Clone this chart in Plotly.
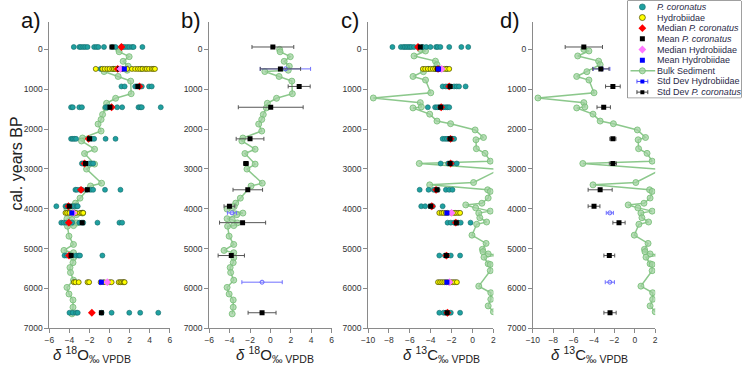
import plotly.graph_objects as go

# ---------------- data ----------------
bulk_age_d18O = [0, 60, 183, 300, 423, 523, 556, 680, 797, 1113, 1228, 1353, 1470, 1635, 1760, 1875,
                 2050, 2225, 2300, 2507, 2615, 2880, 3005, 3360, 3430, 3735, 3860, 3945, 4010, 4110,
                 4150, 4250, 4275, 4357, 4424, 4440, 4690, 4897, 5047, 5105, 5230, 5354, 5478, 5603,
                 5794, 5976, 6142, 6292, 6474, 6640]
bulk_d18O = [0.9, 0.95, 1.95, 1.35, 1.85, 1.75, -0.55, 0.85, 2.1, 2.15, 0.6, -0.3, -0.4, -0.7, -0.85,
             -1.15, -0.85, -2.7, -2.8, -1.5, -2.5, -1.5, -2.3, -0.8, -1.9, -2.95, -3.4, -3.55, -4.25,
             -2.7, -3.3, -4.25, -3.75, -3.25, -3.6, -4.2, -4.05, -3.6, -4.55, -3.6, -3.6, -3.65, -3.95,
             -3.9, -3.6, -4.25, -4.05, -3.65, -3.65, -3.75]

bulk_age_d13C = [0, 40, 165, 295, 385, 560, 680, 770, 1090, 1220, 1337, 1445, 1470, 1626, 1800, 1866,
                 2022, 2212, 2270, 2493, 2610, 2806, 2865, 3013, 3343, 3401, 3525, 3566, 3732, 3863,
                 3905, 3979, 4061, 4111, 4227, 4334, 4391, 4664, 4871, 5020, 5080, 5135, 5165, 5218,
                 5383, 5400, 5556, 5944, 6110, 6275, 6440, 6588]
bulk_d13C = [-5.0, -4.5, -5.6, -3.55, -3.4, -4.7, -5.7, -4.5, -4.0, -9.5, -5.0, -4.9, -5.7, -4.1, -3.4,
             -2.1, 0.25, 1.05, 0.33, 0.37, 1.2, 1.7, -5.1, 2.6, 0.1, -4.1, 1.45, 1.7, 1.5, 0.9, -0.65,
             0.3, 1.7, 0.6, 0.7, 1.35, 0.4, -0.05, 1.3, 0.95, 1.0, 1.5, 2.3, 1.1, 1.5, 1.7, 1.7, 0.6,
             1.75, 1.75, 1.5, 2.0]

pc_row_ages = [-60, 490, 930, 1453, 2246, 2865, 3525, 3938, 4350, 5176, 6612]
pc_d18O = [
    [-3.57, -3.02, -2.85, -2.63, -2.43, -2.2, -1.54, -1.31, -1.12, -0.56, 0.26, 0.59, 1.18, 1.31, 1.5,
     1.74, 1.96, 2.23, 2.39, 3.27],
    [-0.9, 0.4, 1.2, 3.2],
    [1.18, 1.5, 2.55, 2.72, 2.82, 2.98, 3.21, 3.93, 4.2],
    [-3.84, -3.67, -3.02, -2.76, -0.4, -0.23, -0.07, 0.2, 0.75, 1.25, 2.88, 3.05, 3.21, 5.1],
    [-3.84, -3.67, -3.51, -3.34, -2.04, -1.77, -1.54, -0.4, 0.59],
    [-2.76, -2.63, -2.43, -2.04, -1.87, -1.64],
    [-3.41, -3.25, -2.95, -2.85, -2.76, -2.26, -1.87, -1.64, -0.46, 1.08],
    [-5.31, -4.4, -4.23, -4.07, -3.74, -3.51, -3.28, -3.18],
    [-4.82, -4.59, -4.33, -4.07, -4.0, -3.74, -3.02, -2.76, -2.63, -1.21, 0.98, 1.25],
    [-4.49, -4.26, -3.93, -3.84, -3.34, -3.08, -2.95, -0.72],
    [-4.0, -3.67, -3.34, -3.18, -0.79, 0.2, 1.96, 3.05, 4.85],
]
pc_d13C = [
    [-7.67, -6.86, -6.63, -6.48, -6.32, -6.16, -6.0, -5.85, -5.6, -5.22, -4.84, -4.75, -4.43, -4.03,
     -3.49, -3.33, -3.08, -2.23, -1.07, -0.41],
    [-4.2, -3.6, -3.0, -2.5],
    [-2.86, -2.55, -2.33, -2.08, -1.76, -1.51, -1.29, -0.66],
    [-4.28, -3.58, -3.39, -3.18, -2.95, -2.77, -2.55, -2.39, -2.23],
    [-2.86, -2.64, -2.45, -2.23, -2.08, -1.92, -1.76],
    [-3.05, -2.33, -2.14, -2.08, -1.92, -1.51],
    [-5.06, -4.21, -3.71, -3.49, -3.33, -2.55, -2.23, -1.92],
    [-4.91, -4.53, -4.03, -3.9, -3.8, -2.86],
    [-2.39, -2.08, -1.76, -1.51, -1.38, -1.13, -0.19],
    [-3.18, -2.64, -2.45, -2.08, -1.19],
    [-3.18, -2.77, -2.55, -2.36, -2.08, -1.19],
]
pc_mean_d18O = [0.24, 0.98, 2.82, 0.03, -2.0, -2.4, -2.22, -4.02, -2.73, -3.84, -0.82]
pc_median_d18O = [1.18, 0.8, 2.98, 0.2, -2.1, -2.5, -2.85, -4.1, -4.07, -4.05, -1.77]
pc_std_d18O = [2.05, 1.98, 1.08, 3.18, 1.36, 0.24, 1.45, 0.53, 2.26, 1.29, 1.37]
pc_mean_d13C = [-5.0, -3.33, -2.15, -3.05, -2.15, -2.15, -3.4, -4.0, -1.55, -2.5, -2.43]
pc_median_d13C = [-5.22, -3.3, -2.23, -3.0, -2.1, -2.1, -3.49, -3.9, -1.6, -2.5, -2.4]
pc_std_d13C = [1.83, 0.8, 0.72, 0.66, 0.3, 0.35, 1.18, 0.58, 0.6, 0.53, 0.6]

hyd_row_ages = [490, 4105, 5845]
hyd_d18O = [
    [-1.38, -0.72, -0.49, -0.23, 0.0, 0.26, 0.42, 0.59, 0.85, 1.31, 1.74, 2.23, 2.55, 2.82, 3.05, 3.28,
     3.54, 3.7, 3.93, 4.2, 4.36, 4.52],
    [-4.4, -4.23, -4.0, -3.67, -3.34, -2.95, -2.76, -2.63],
    [-3.57, -3.41, -3.08, -2.2, -2.04, -0.89, -0.56, 0.0, 0.2, 0.91, 1.08, 1.25, 1.41, 1.5],
]
hyd_d13C = [
    [-4.75, -4.53, -4.28, -4.03, -3.8, -3.58, -3.39, -3.18, -2.95, -2.7, -2.45, -2.23],
    [-3.18, -2.95, -2.77, -2.55, -2.39, -2.01, -1.76, -1.6, -1.38, -1.19],
    [-3.3, -3.1, -2.9, -2.7, -2.5, -2.3, -2.1, -1.9, -1.7, -1.5],
]
hyd_mean_d18O = [1.47, -3.77, -0.82]
hyd_median_d18O = [1.08, -3.6, -0.23]
hyd_std_d18O = [2.47, 0.45, 1.98]
hyd_mean_d13C = [-3.25, -2.45, -2.45]
hyd_median_d13C = [-2.95, -2.01, -2.2]
hyd_std_d13C = [0.81, 0.35, 0.45]

y_ticks = [0, 1000, 2000, 3000, 4000, 5000, 6000, 7000]
x_ticks_O = [-6, -4, -2, 0, 2, 4, 6]
x_ticks_C = [-10, -8, -6, -4, -2, 0, 2]
panel_labels = ["a)", "b)", "c)", "d)"]
x_titles = ["<i>δ</i> <sup>18</sup>O<sub>‰ VPDB</sub>", "<i>δ</i> <sup>18</sup>O<sub>‰ VPDB</sub>",
            "<i>δ</i> <sup>13</sup>C<sub>‰ VPDB</sub>", "<i>δ</i> <sup>13</sup>C<sub>‰ VPDB</sub>"]
legend_labels = ["<i>P. coronatus</i>", "Hydrobiidae", "Median <i>P. coronatus</i>",
                 "Mean <i>P. coronatus</i>", "Median Hydrobiidae", "Mean Hydrobiidae",
                 "Bulk Sediment", "Std Dev Hydrobiidae", "Std Dev <i>P. coronatus</i>"]

# ---------------- styles ----------------
W, H = 746, 369
FONT = "Liberation Sans, Arial, sans-serif"
TEAL = "#1fa0a0"
GREEN_LINE = "rgba(120,190,120,0.85)"
GREEN_FILL = "rgba(160,210,160,0.75)"
AXC = "#8a8a8a"

def px_x(p):
    return p / W

def px_y(p):
    return 1 - p / H

panel_px = [(43, 165), (205, 329), (366, 493), (533, 657)]
title_cx = [86, 272, 440, 590]
label_cx = [24, 186, 348, 510]
y_top_px, y_bot_px = 21.8, 332.7

fig = go.Figure()


def flat(rows, ages):
    xs, ys = [], []
    for a, r in zip(ages, rows):
        xs += r
        ys += [a] * len(r)
    return xs, ys


bulk_marker = dict(symbol="circle", size=6, color=GREEN_FILL, line=dict(color=GREEN_LINE, width=1))
bulk_line = dict(color=GREEN_LINE, width=1.5)

for i in range(4):
    xa = "x" if i == 0 else f"x{i+1}"
    ya = "y" if i == 0 else f"y{i+1}"
    is_O = i < 2
    b_age = bulk_age_d18O if is_O else bulk_age_d13C
    b_val = bulk_d18O if is_O else bulk_d13C
    fig.add_trace(go.Scatter(x=b_val, y=b_age, mode="lines+markers", line=bulk_line,
                             marker=bulk_marker, xaxis=xa, yaxis=ya, showlegend=False))
    if i in (0, 2):
        pcs = pc_d18O if is_O else pc_d13C
        hys = hyd_d18O if is_O else hyd_d13C
        x, y = flat(pcs, pc_row_ages)
        fig.add_trace(go.Scatter(x=x, y=y, mode="markers", xaxis=xa, yaxis=ya, showlegend=False,
                                 marker=dict(size=5, color=TEAL, line=dict(color="#156b6b", width=0.6))))
        x, y = flat(hys, hyd_row_ages)
        fig.add_trace(go.Scatter(x=x, y=y, mode="markers", xaxis=xa, yaxis=ya, showlegend=False,
                                 marker=dict(size=5, color="#ffff00", line=dict(color="#444400", width=0.7))))
        fig.add_trace(go.Scatter(x=pc_median_d18O if is_O else pc_median_d13C, y=pc_row_ages,
                                 mode="markers", xaxis=xa, yaxis=ya, showlegend=False,
                                 marker=dict(symbol="diamond", size=6, color="#ff0000")))
        fig.add_trace(go.Scatter(x=pc_mean_d18O if is_O else pc_mean_d13C, y=pc_row_ages,
                                 mode="markers", xaxis=xa, yaxis=ya, showlegend=False,
                                 marker=dict(symbol="square", size=5, color="#000000")))
        fig.add_trace(go.Scatter(x=hyd_median_d18O if is_O else hyd_median_d13C, y=hyd_row_ages,
                                 mode="markers", xaxis=xa, yaxis=ya, showlegend=False,
                                 marker=dict(symbol="diamond", size=6, color="#ff77ff")))
        fig.add_trace(go.Scatter(x=hyd_mean_d18O if is_O else hyd_mean_d13C, y=hyd_row_ages,
                                 mode="markers", xaxis=xa, yaxis=ya, showlegend=False,
                                 marker=dict(symbol="square", size=5, color="#0000ff")))
    else:
        fig.add_trace(go.Scatter(x=hyd_mean_d18O if is_O else hyd_mean_d13C, y=hyd_row_ages,
                                 mode="markers", xaxis=xa, yaxis=ya, showlegend=False,
                                 error_x=dict(type="data", array=hyd_std_d18O if is_O else hyd_std_d13C,
                                              color="#7070ff", thickness=1, width=2),
                                 marker=dict(symbol="circle-open", size=4, color="#6060ff")))
        fig.add_trace(go.Scatter(x=pc_mean_d18O if is_O else pc_mean_d13C, y=pc_row_ages,
                                 mode="markers", xaxis=xa, yaxis=ya, showlegend=False,
                                 error_x=dict(type="data", array=pc_std_d18O if is_O else pc_std_d13C,
                                              color="#555555", thickness=1, width=2),
                                 marker=dict(symbol="square", size=5, color="#000000")))

    x0, x1 = panel_px[i]
    xkey = "xaxis" if i == 0 else f"xaxis{i+1}"
    ykey = "yaxis" if i == 0 else f"yaxis{i+1}"
    ticks = x_ticks_O if is_O else x_ticks_C
    fig.layout[xkey] = dict(domain=[px_x(x0), px_x(x1)], anchor=ya, range=[ticks[0], ticks[-1]],
                            tickvals=ticks, showline=True, linecolor=AXC, linewidth=1,
                            ticks="outside", ticklen=4, tickcolor=AXC, showgrid=False, zeroline=False,
                            tickfont=dict(family=FONT, size=8.5, color="#333333"))
    fig.layout[ykey] = dict(domain=[px_y(y_bot_px), px_y(y_top_px)], anchor=xa, range=[7000, -700],
                            tickvals=y_ticks, showline=True, linecolor=AXC, linewidth=1,
                            ticks="outside", ticklen=4, tickcolor=AXC, showgrid=False, zeroline=False,
                            tickfont=dict(family=FONT, size=8.5, color="#333333"))
    fig.add_annotation(x=px_x(label_cx[i]), y=px_y(21), xref="paper", yref="paper", text=panel_labels[i],
                       showarrow=False, font=dict(family=FONT, size=22, color="#111111"),
                       xanchor="center", yanchor="middle")
    fig.add_annotation(x=px_x(title_cx[i]), y=px_y(359), xref="paper", yref="paper", text=x_titles[i],
                       showarrow=False, font=dict(family=FONT, size=15, color="#222222"),
                       xanchor="center", yanchor="middle")

fig.add_annotation(x=px_x(10), y=px_y(166), xref="paper", yref="paper", text="cal. years BP",
                   textangle=-90, showarrow=False, font=dict(family=FONT, size=16, color="#222222"),
                   xanchor="center", yanchor="middle")

# ---------------- legend (drawn manually) ----------------
LX0, LX1, LY0, LY1 = 629, 744, 1, 99
fig.layout["xaxis5"] = dict(domain=[px_x(LX0), px_x(LX1)], range=[0, LX1 - LX0], visible=False,
                            anchor="y5", fixedrange=True)
fig.layout["yaxis5"] = dict(domain=[px_y(LY1), px_y(LY0)], range=[LY1 - LY0, 0], visible=False,
                            anchor="x5", fixedrange=True)
fig.add_shape(type="rect", xref="paper", yref="paper", x0=px_x(LX0), x1=px_x(LX1), y0=px_y(LY1),
              y1=px_y(LY0), line=dict(color="#444444", width=1), fillcolor="white", layer="below")

item_y = [6 + 10.8 * k for k in range(len(legend_labels))]
sym_x = 15
leg_markers = [
    dict(size=6, color=TEAL, line=dict(color="#156b6b", width=0.6)),
    dict(size=6, color="#ffff00", line=dict(color="#444400", width=0.7)),
    dict(symbol="diamond", size=6, color="#ff0000"),
    dict(symbol="square", size=5, color="#000000"),
    dict(symbol="diamond", size=6, color="#ff77ff"),
    dict(symbol="square", size=5, color="#0000ff"),
]
for k, m in enumerate(leg_markers):
    fig.add_trace(go.Scatter(x=[sym_x], y=[item_y[k]], mode="markers", marker=m,
                             xaxis="x5", yaxis="y5", showlegend=False, hoverinfo="skip"))
fig.add_trace(go.Scatter(x=[3, sym_x, 28], y=[item_y[6]] * 3, mode="lines", line=bulk_line,
                         xaxis="x5", yaxis="y5", showlegend=False, hoverinfo="skip"))
fig.add_trace(go.Scatter(x=[sym_x], y=[item_y[6]], mode="markers", marker=bulk_marker,
                         xaxis="x5", yaxis="y5", showlegend=False, hoverinfo="skip"))
fig.add_trace(go.Scatter(x=[sym_x], y=[item_y[7]], mode="markers",
                         error_x=dict(type="constant", value=5.5, color="#5050ff", thickness=1, width=2),
                         marker=dict(symbol="square", size=4, color="#0000ff"),
                         xaxis="x5", yaxis="y5", showlegend=False, hoverinfo="skip"))
fig.add_trace(go.Scatter(x=[sym_x], y=[item_y[8]], mode="markers",
                         error_x=dict(type="constant", value=5.5, color="#444444", thickness=1, width=2),
                         marker=dict(symbol="square", size=4, color="#000000"),
                         xaxis="x5", yaxis="y5", showlegend=False, hoverinfo="skip"))
for k, lab in enumerate(legend_labels):
    fig.add_annotation(x=28, y=item_y[k], xref="x5", yref="y5", text=lab, showarrow=False,
                       xanchor="left", yanchor="middle",
                       font=dict(family=FONT, size=9, color="#2a2a48"))

fig.update_layout(width=W, height=H, margin=dict(l=0, r=0, t=0, b=0),
                  plot_bgcolor="white", paper_bgcolor="white", showlegend=False)

fig.write_html("out.html")
